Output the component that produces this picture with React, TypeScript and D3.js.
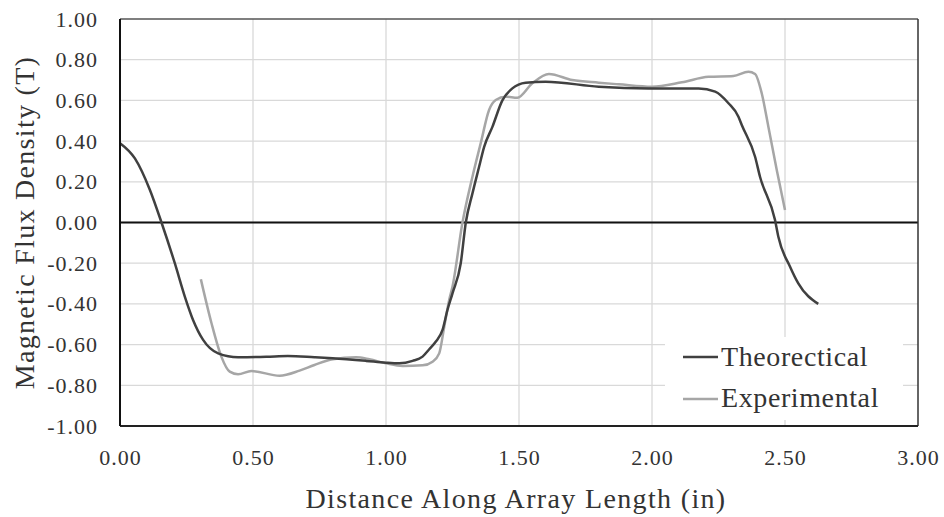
import React from "react";
import * as d3 from "d3";

const theoX = [0, 0.056, 0.1125, 0.156, 0.206, 0.244, 0.275, 0.3125, 0.369, 0.444, 0.55, 0.631, 0.731, 0.8, 0.925, 1.0, 1.05, 1.1, 1.1375, 1.1625, 1.1875, 1.2125, 1.231, 1.25, 1.281, 1.3, 1.325, 1.35, 1.369, 1.4, 1.4375, 1.475, 1.525, 1.6, 1.8, 1.9875, 2.175, 2.2375, 2.2875, 2.325, 2.3375, 2.3875, 2.406, 2.4625, 2.475, 2.519, 2.55, 2.625];
const theoY = [0.39, 0.315, 0.16, 0.0, -0.2, -0.365, -0.48, -0.577, -0.643, -0.662, -0.66, -0.656, -0.662, -0.667, -0.68, -0.689, -0.692, -0.68, -0.659, -0.623, -0.585, -0.528, -0.43, -0.348, -0.2, 0.0, 0.143, 0.274, 0.372, 0.47, 0.6, 0.659, 0.687, 0.692, 0.667, 0.659, 0.659, 0.643, 0.586, 0.52, 0.479, 0.323, 0.225, 0.012, -0.07, -0.217, -0.299, -0.4];

const expX = [0.304, 0.344, 0.381, 0.4125, 0.444, 0.494, 0.6, 0.675, 0.731, 0.8, 0.8875, 0.9375, 1.0, 1.0625, 1.1375, 1.175, 1.2, 1.219, 1.2375, 1.25, 1.2875, 1.325, 1.356, 1.3875, 1.4125, 1.45, 1.494, 1.55, 1.6125, 1.7, 1.8, 1.875, 2.0, 2.1125, 2.2125, 2.306, 2.3625, 2.3875, 2.4125, 2.4375, 2.469, 2.5];
const expY = [-0.279, -0.495, -0.659, -0.733, -0.746, -0.73, -0.753, -0.728, -0.7, -0.672, -0.662, -0.672, -0.692, -0.705, -0.702, -0.684, -0.643, -0.512, -0.381, -0.315, 0.0, 0.225, 0.389, 0.553, 0.602, 0.618, 0.613, 0.684, 0.73, 0.7, 0.687, 0.679, 0.667, 0.689, 0.716, 0.72, 0.741, 0.73, 0.635, 0.471, 0.258, 0.061];

const xTicks = [0, 0.5, 1.0, 1.5, 2.0, 2.5, 3.0];
const yTicks = [1.0, 0.8, 0.6, 0.4, 0.2, 0.0, -0.2, -0.4, -0.6, -0.8, -1.0];
const seriesNames = ["Theorectical", "Experimental"];
const xTitle = "Distance Along Array Length (in)";
const yTitle = "Magnetic Flux Density (T)";

const W = 944, H = 517;
const L = 120, R = 918, T = 19, B = 426;
const FONT = "'Liberation Serif', 'Times New Roman', serif";
const TXT = "#333333";

const fmt = (v: number) => d3.format(".2f")(v).replace("\u2212", "-");

export default function App() {
  const x = d3.scaleLinear().domain([0, 3]).range([L, R]);
  const y = d3.scaleLinear().domain([-1, 1]).range([B, T]);
  const line = d3
    .line<[number, number]>()
    .x((d) => x(d[0]))
    .y((d) => y(d[1]))
    .curve(d3.curveMonotoneX);
  const theo = theoX.map((v, i) => [v, theoY[i]] as [number, number]);
  const exp = expX.map((v, i) => [v, expY[i]] as [number, number]);

  return (
    <svg width={W} height={H} style={{ position: "absolute", left: 0, top: 0, background: "#fff" }} fontFamily={FONT}>
      <rect x={0} y={0} width={W} height={H} fill="#fff" />
      {xTicks.slice(1, -1).map((t) => (
        <line key={"gx" + t} x1={x(t)} x2={x(t)} y1={T} y2={B} stroke="#d9d9d9" strokeWidth={1.3} />
      ))}
      {yTicks.slice(1, -1).map((t) => (
        <line key={"gy" + t} x1={L} x2={R} y1={y(t)} y2={y(t)} stroke="#d9d9d9" strokeWidth={1.3} />
      ))}
      <line x1={L} x2={R} y1={y(0)} y2={y(0)} stroke="#111" strokeWidth={2} />
      <path d={line(exp) || ""} fill="none" stroke="#a6a6a6" strokeWidth={2.5} strokeLinejoin="round" />
      <path d={line(theo) || ""} fill="none" stroke="#404040" strokeWidth={2.5} strokeLinejoin="round" />
      {/* frame */}
      <line x1={L} x2={R} y1={T} y2={T} stroke="#555" strokeWidth={1.3} />
      <line x1={R} x2={R} y1={T} y2={B} stroke="#333" strokeWidth={1.5} />
      <line x1={L} x2={R} y1={B} y2={B} stroke="#222" strokeWidth={2} />
      <line x1={L} x2={L} y1={T} y2={B} stroke="#111" strokeWidth={2} />
      {/* legend */}
      <rect x={665} y={337} width={238} height={83} fill="#fff" />
      {seriesNames.map((n, i) => (
        <g key={n}>
          <line x1={683} x2={718} y1={357 + i * 42} y2={357 + i * 42} stroke={i === 0 ? "#404040" : "#a6a6a6"} strokeWidth={2.5} />
          <text x={721} y={366 + i * 41} fontSize={28} letterSpacing={0.6} fill={TXT}>{n}</text>
        </g>
      ))}
      {yTicks.map((t) => (
        <text key={"ty" + t} x={98} y={y(t) + 7.5} textAnchor="end" fontSize={22} letterSpacing={1} fill={TXT}>
          {fmt(t)}
        </text>
      ))}
      {xTicks.map((t) => (
        <text key={"tx" + t} x={x(t) + 0.5} y={465} textAnchor="middle" fontSize={22} letterSpacing={1} fill={TXT}>
          {fmt(t)}
        </text>
      ))}
      <text x={(L + R) / 2 - 3} y={508} textAnchor="middle" fontSize={28} letterSpacing={1.35} fill={TXT}>{xTitle}</text>
      <text transform={`translate(34,${(T + B) / 2}) rotate(-90)`} textAnchor="middle" fontSize={28} letterSpacing={1.3} fill={TXT}>{yTitle}</text>
    </svg>
  );
}
